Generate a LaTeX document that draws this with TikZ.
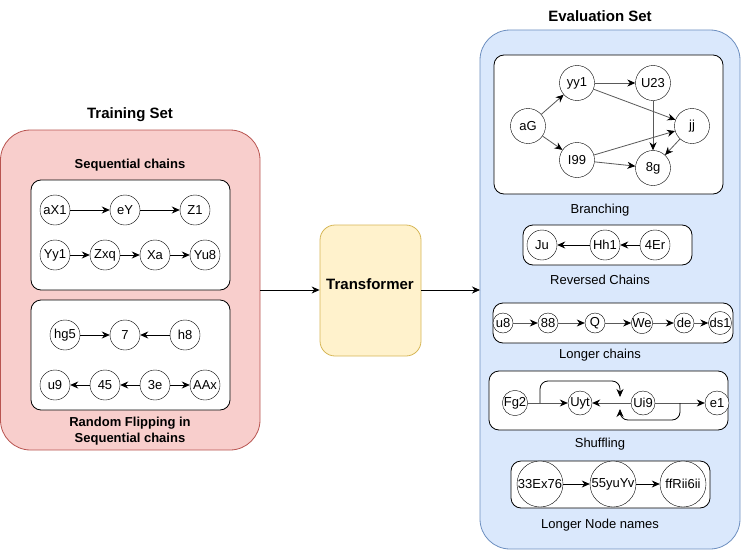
\documentclass[tikz,border=0pt]{standalone}
\usepackage{fontspec}
\setmainfont{Liberation Sans}
\usetikzlibrary{arrows.meta}

\definecolor{redfill}{HTML}{F8CECC}
\definecolor{redline}{HTML}{B85450}
\definecolor{bluefill}{HTML}{DAE8FC}
\definecolor{blueline}{HTML}{6C8EBF}
\definecolor{yelfill}{HTML}{FFF2CC}
\definecolor{yelline}{HTML}{D6B656}

\begin{document}
\begin{tikzpicture}[x=1pt,y=-1pt,
  every node/.style={font=\fontsize{13}{15}\selectfont},
  vert/.style={draw,circle,fill=white,inner sep=0pt,minimum size=30pt},
  panel/.style={draw,fill=white,rounded corners=10pt,line width=0.8pt},
  title/.style={font=\fontsize{15}{18}\selectfont\bfseries},
  sub/.style={font=\fontsize{13}{16}\selectfont\bfseries},
  arr/.style={-{Stealth[length=8pt,width=7pt,color=black]},line width=0.8pt},
  garr/.style={arr,draw=black!65}]
\useasboundingbox (0,0) rectangle (741,551);

% training set
\node[title] (trtitle) at (130,115) {Training Set};
\draw[fill=redfill,draw=redline,rounded corners=30pt,line width=0.8pt] (0.5,130) rectangle (260,450);
\coordinate (trout) at (260,290);
\node[sub] (seqlab) at (130,165) {Sequential chains};
\draw[panel] (31,180) rectangle (230,290);
\node[vert] (aX1) at (55,210) {aX1};
\node[vert] (eY) at (125,210) {eY};
\node[vert] (Z1) at (195,210) {Z1};
\node[vert] (Yy1) at (55,255) {Yy1};
\node[vert] (Zxq) at (105,255) {Zxq};
\node[vert] (Xa) at (155,255) {Xa};
\node[vert] (Yu8) at (205,255) {Yu8};
\draw[arr] (aX1) -- (eY);
\draw[arr] (eY) -- (Z1);
\draw[arr] (Yy1) -- (Zxq);
\draw[arr] (Zxq) -- (Xa);
\draw[arr] (Xa) -- (Yu8);

\draw[panel] (31,300) rectangle (230,410);
\node[vert] (hg5) at (65,335) {hg5};
\node[vert] (n7) at (125,335) {7};
\node[vert] (h8) at (185,335) {h8};
\node[vert] (u9) at (55,385) {u9};
\node[vert] (n45) at (105,385) {45};
\node[vert] (e3) at (155,385) {3e};
\node[vert] (AAx) at (205,385) {AAx};
\draw[arr] (hg5) -- (n7);
\draw[arr] (h8) -- (n7);
\draw[arr] (n45) -- (u9);
\draw[arr] (e3) -- (n45);
\draw[arr] (e3) -- (AAx);
\node[sub,align=center] (fliplab) at (130,431) {Random Flipping in\\Sequential chains};

% transformer
\node[draw=yelline,fill=yelfill,rounded corners=15pt,minimum width=101pt,minimum height=131pt,line width=0.8pt] (tf) at (370.5,290.5) {};
\node[title] (tflab) at (370,284) {Transformer};

% evaluation set
\node[title] (evtitle) at (600,16) {Evaluation Set};
\draw[fill=bluefill,draw=blueline,rounded corners=30pt,line width=0.8pt] (480,30) rectangle (740,549);
\coordinate (evin) at (480,290);
\draw[arr] (trout) -- (trout -| tf.west);
\draw[arr] (evin -| tf.east) -- (evin);

\begin{scope}[vert/.append style={minimum size=35pt}]
\draw[panel] (494,55) rectangle (723,194);
\node[vert] (aG) at (528,126) {aG};
\node[vert] (yy1) at (577,83) {yy1};
\node[vert] (U23) at (653,83) {U23};
\node[vert] (jj) at (692,126) {jj};
\node[vert] (I99) at (577,160) {I99};
\node[vert] (g8) at (653,168) {8g};
\draw[garr] (aG) -- (yy1);
\draw[garr] (aG) -- (I99);
\draw[garr] (yy1) -- (U23);
\draw[garr] (yy1) -- (jj);
\draw[garr] (U23) -- (g8);
\draw[garr] (I99) -- (jj);
\draw[garr] (I99) -- (g8);
\draw[garr] (jj) -- (g8);
\end{scope}
\node (brlab) at (600,210) {Branching};

\draw[panel] (523,225) rectangle (692,265);
\node[vert] (Ju) at (542,245) {Ju};
\node[vert] (Hh1) at (605,245) {Hh1};
\node[vert] (Er4) at (655,245) {4Er};
\draw[arr] (Hh1) -- (Ju);
\draw[arr] (Er4) -- (Hh1);
\node (revlab) at (600,280) {Reversed Chains};

\begin{scope}[vert/.append style={minimum size=20pt}]
\draw[panel] (493,303) rectangle (733,343);
\node[vert] (u8) at (503,323) {u8};
\node[vert] (n88) at (548,323) {88};
\node[vert] (Q) at (595,323) {Q};
\node[vert] (We) at (642,323) {We};
\node[vert] (de) at (684,323) {de};
\node[vert] (ds1) at (720,323) {ds1};
\draw[garr] (u8) -- (n88);
\draw[garr] (n88) -- (Q);
\draw[garr] (Q) -- (We);
\draw[garr] (We) -- (de);
\draw[garr] (de) -- (ds1);
\end{scope}
\node (longlab) at (600,355) {Longer chains};

\begin{scope}[vert/.append style={minimum size=24pt}]
\draw[panel] (489,371) rectangle (728,430);
\node[vert] (Fg2) at (515,403) {Fg2};
\node[vert] (Uyt) at (580,403) {Uyt};
\node[vert] (Ui9) at (643,403) {Ui9};
\node[vert] (e1) at (717,403) {e1};
\draw[garr] (Fg2) -- (Uyt);
\draw[garr] (Ui9) -- (Uyt);
\draw[garr] (Ui9) -- (e1);
\coordinate (sa) at (540,403);
\coordinate (sb) at (620,397);
\coordinate (sc) at (680,403);
\coordinate (sd) at (620,409);
\draw[arr,rounded corners=8pt] (sa) |- (620,381) -- (sb);
\draw[arr,rounded corners=8pt] (sc) |- (620,420) -- (sd);
\end{scope}
\node (shuflab) at (600,444) {Shuffling};

\begin{scope}[vert/.append style={minimum size=46pt}]
\draw[panel] (511,461) rectangle (710,508);
\node[vert] (Ex76) at (540,484) {33Ex76};
\node[vert] (yuYv) at (613,484) {55yuYv};
\node[vert] (ffRii) at (683,484) {ffRii6ii};
\draw[arr] (Ex76) -- (yuYv);
\draw[arr] (yuYv) -- (ffRii);
\end{scope}
\node (lnlab) at (600,525) {Longer Node names};
\end{tikzpicture}
\end{document}
